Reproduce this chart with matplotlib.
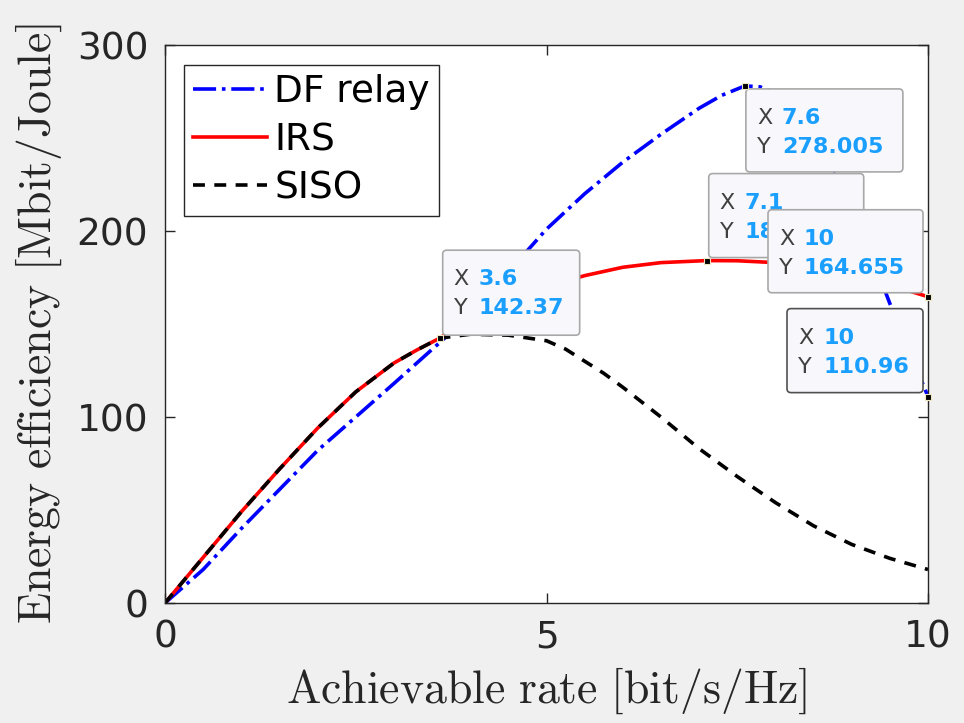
import numpy as np
import matplotlib.pyplot as plt
from matplotlib.patches import FancyBboxPatch
from matplotlib.transforms import ScaledTranslation

plt.rcParams['mathtext.fontset'] = 'cm'

# achievable rate [bit/s/Hz] and energy efficiency [Mbit/Joule]
irs_rate = [0, 0.5, 1.0, 1.5, 2.0, 2.5, 3.0, 3.3, 3.6, 4.0, 4.5, 5.0, 5.5, 6.0,
            6.5, 7.1, 7.5, 8.0, 8.5, 9.0, 9.5, 10.0]
irs_ee = [0, 24.5, 49, 72, 94, 113.5, 129, 136, 142.37, 153, 162.5, 170, 176,
          180.5, 183, 184.1, 184, 183, 180.5, 176.5, 171, 164.655]

siso_rate = [0, 0.5, 1.0, 1.5, 2.0, 2.5, 3.0, 3.3, 3.6, 4.0, 4.5, 5.0, 5.25,
             5.5, 5.75, 6.0, 6.5, 7.0, 7.5, 8.0, 8.5, 9.0, 9.5, 10.0]
siso_ee = [0, 24.5, 49, 72, 94, 113.5, 129, 136, 142.37, 144.5, 144, 141, 136.5,
           130, 123.5, 116, 100, 83, 68, 54, 41.5, 31.5, 24, 18]

df_rate = [0, 0.5, 1.0, 1.5, 2.0, 2.5, 3.0, 3.6, 4.0, 4.5, 5.0, 5.5, 6.0, 6.5,
           7.0, 7.3, 7.6, 7.8, 8.0, 8.5, 9.0, 9.5, 9.75, 10.0]
df_ee = [0, 18, 40, 61, 82, 100, 118, 140, 155, 178, 201, 220, 237, 252, 266,
         273, 278.005, 277.5, 274, 253, 215, 161, 136, 110.96]

# data tips: (x, y, x text, y text, box offset/size in pixels, edge colour)
tips = [
    (3.6, 142.37, "3.6", "142.37", (3, 3, 137, 85), '#a8a8a8'),
    (7.6, 278.005, "7.6", "278.005", (1, -86, 157, 83), '#a8a8a8'),
    (7.1, 184.1, "7.1", "184.103", (2, 3, 155, 84), '#a8a8a8'),
    (10, 164.655, "10", "164.655", (-160, 4, 155, 83), '#a8a8a8'),
    (10, 110.96, "10", "110.96", (-141, 4, 136, 84), '#505050'),
]

fig = plt.figure(figsize=(9.64, 7.23), dpi=100)
fig.patch.set_facecolor('#f0f0f0')
ax = fig.add_axes([165/964, 1-603/723, 763/964, 558/723])

ax.plot(df_rate, df_ee, color='#0000ff', ls='-.', lw=2.6, label='DF relay')
ax.plot(irs_rate, irs_ee, color='#ff0000', ls='-', lw=2.6, label='IRS')
ax.plot(siso_rate, siso_ee, color='black', ls='--', lw=2.6, label='SISO',
        dashes=(3.3, 2.6))

ax.set_xlim(0, 10)
ax.set_ylim(0, 300)
ax.set_xticks([0, 5, 10])
ax.set_yticks([0, 100, 200, 300])
ax.tick_params(direction='in', length=7, width=1, top=True, right=True,
               labelsize=27, colors='#262626', pad=12)
for s in ax.spines.values():
    s.set_color('#262626')
    s.set_linewidth(1)

ax.set_xlabel(r'$\mathrm{Achievable\ rate\ [bit/s/Hz]}$', fontsize=33,
              color='#262626', labelpad=7)
ax.set_ylabel(r'$\mathrm{Energy\ efficiency\ [Mbit/Joule]}$', fontsize=33,
              color='#262626', labelpad=9)

leg = ax.legend(loc='upper left', bbox_to_anchor=(0.025, 0.964), borderaxespad=0,
                fontsize=27, handlelength=1.95, handletextpad=0.2,
                labelspacing=0.32, borderpad=0.25, fancybox=False,
                framealpha=1, edgecolor='#262626')
leg.get_frame().set_linewidth(1)

for i, (x, y, xs, ys, (dx, dy, w, h), ec) in enumerate(tips):
    z = 5 + i
    tr = fig.dpi_scale_trans + ScaledTranslation(x, y, ax.transData)
    ax.plot([x], [y], marker='s', ms=5, mfc='black', mec='#eee8c0', mew=0.8,
            zorder=z + 0.5, clip_on=False)
    box = FancyBboxPatch((dx/100, dy/100), w/100, h/100,
                         boxstyle='round,pad=0,rounding_size=0.04',
                         transform=tr, fc='#f8f8fc', ec=ec, lw=1.2,
                         zorder=z, clip_on=False)
    ax.add_artist(box)
    top = dy + h
    for k, (lab, val) in enumerate([("X", xs), ("Y", ys)]):
        yy = (top - 29 - 29*k)/100
        ax.text((dx + 11)/100, yy, lab, transform=tr, fontsize=16,
                color='#404040', va='center', ha='left', zorder=z + 0.1,
                clip_on=False)
        ax.text((dx + 36)/100, yy, val, transform=tr, fontsize=16,
                color='#1a9fff', fontweight='bold', va='center', ha='left',
                zorder=z + 0.1, clip_on=False)

fig.savefig('out.png', dpi=100, facecolor=fig.get_facecolor())
